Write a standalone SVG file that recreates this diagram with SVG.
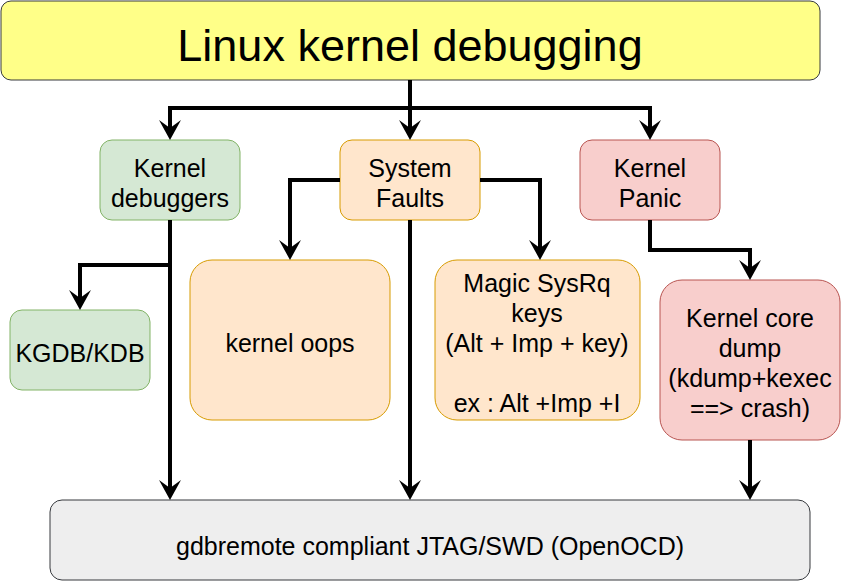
<svg xmlns="http://www.w3.org/2000/svg" width="841" height="581" viewBox="0 0 841 581">
<style>
text{font-family:"Liberation Sans",Arial,sans-serif;fill:#000;text-anchor:middle}
.t{font-size:25px}
.e{fill:none;stroke:#000;stroke-width:4;stroke-linejoin:miter}
.y{fill:#ffff88;stroke:#36393d}
.g{fill:#d5e8d4;stroke:#82b366}
.o{fill:#ffe6cc;stroke:#d79b00}
.r{fill:#f8cecc;stroke:#b85450}
.k{fill:#eeeeee;stroke:#36393d}
</style>
<defs>
<marker id="a" markerUnits="userSpaceOnUse" markerWidth="22" markerHeight="24" viewBox="0 0 22 24" refX="10" refY="12" orient="auto">
<path d="M0,1 L20,12 L0,23 L8,12 Z" fill="#000"/>
</marker>
</defs>
<rect width="841" height="581" fill="#fff"/>
<g id="title"><rect class="y" x="1" y="1" width="819" height="79" rx="10"/><text x="410" y="61" style="font-size:45px">Linux kernel debugging</text></g>
<g id="kdbg"><rect class="g" x="100" y="140" width="140" height="80" rx="12"/><text class="t" x="170" y="177">Kernel</text><text class="t" x="170" y="207">debuggers</text></g>
<g id="sf"><rect class="o" x="340" y="140" width="140" height="80" rx="12"/><text class="t" x="410" y="177">System</text><text class="t" x="410" y="207">Faults</text></g>
<g id="kp"><rect class="r" x="580" y="140" width="140" height="80" rx="12"/><text class="t" x="650" y="177">Kernel</text><text class="t" x="650" y="207">Panic</text></g>
<g id="kgdb"><rect class="g" x="10" y="310" width="140" height="80" rx="12"/><text class="t" x="80" y="362">KGDB/KDB</text></g>
<g id="oops"><rect class="o" x="190" y="260" width="200" height="160" rx="22"/><text class="t" x="290" y="352">kernel oops</text></g>
<g id="sysrq"><rect class="o" x="435" y="260" width="205" height="160" rx="22"/><text class="t" x="537" y="292">Magic SysRq</text><text class="t" x="537" y="322">keys</text><text class="t" x="537" y="352">(Alt + Imp + key)</text><text class="t" x="537" y="412">ex : Alt +Imp +I</text></g>
<g id="core"><rect class="r" x="660" y="280" width="180" height="160" rx="22"/><text class="t" x="750" y="327">Kernel core</text><text class="t" x="750" y="357">dump</text><text class="t" x="750" y="387">(kdump+kexec</text><text class="t" x="750" y="417">==&gt; crash)</text></g>
<g id="jtag"><rect class="k" x="50" y="500" width="760" height="80" rx="12"/><text class="t" x="430" y="555">gdbremote compliant JTAG/SWD (OpenOCD)</text></g>
<g id="connectors">
<path class="e" d="M410,80 V108 H170 V130" marker-end="url(#a)"/>
<path class="e" d="M410,80 V130" marker-end="url(#a)"/>
<path class="e" d="M410,108 H650 V130" marker-end="url(#a)"/>
<path class="e" d="M170,220 V490" marker-end="url(#a)"/>
<path class="e" d="M170,265 H80 V300" marker-end="url(#a)"/>
<path class="e" d="M340,180 H290 V250" marker-end="url(#a)"/>
<path class="e" d="M480,180 H540 V250" marker-end="url(#a)"/>
<path class="e" d="M410,220 V490" marker-end="url(#a)"/>
<path class="e" d="M650,220 V250 H750 V270" marker-end="url(#a)"/>
<path class="e" d="M750,440 V490" marker-end="url(#a)"/>
</g>
</svg>
